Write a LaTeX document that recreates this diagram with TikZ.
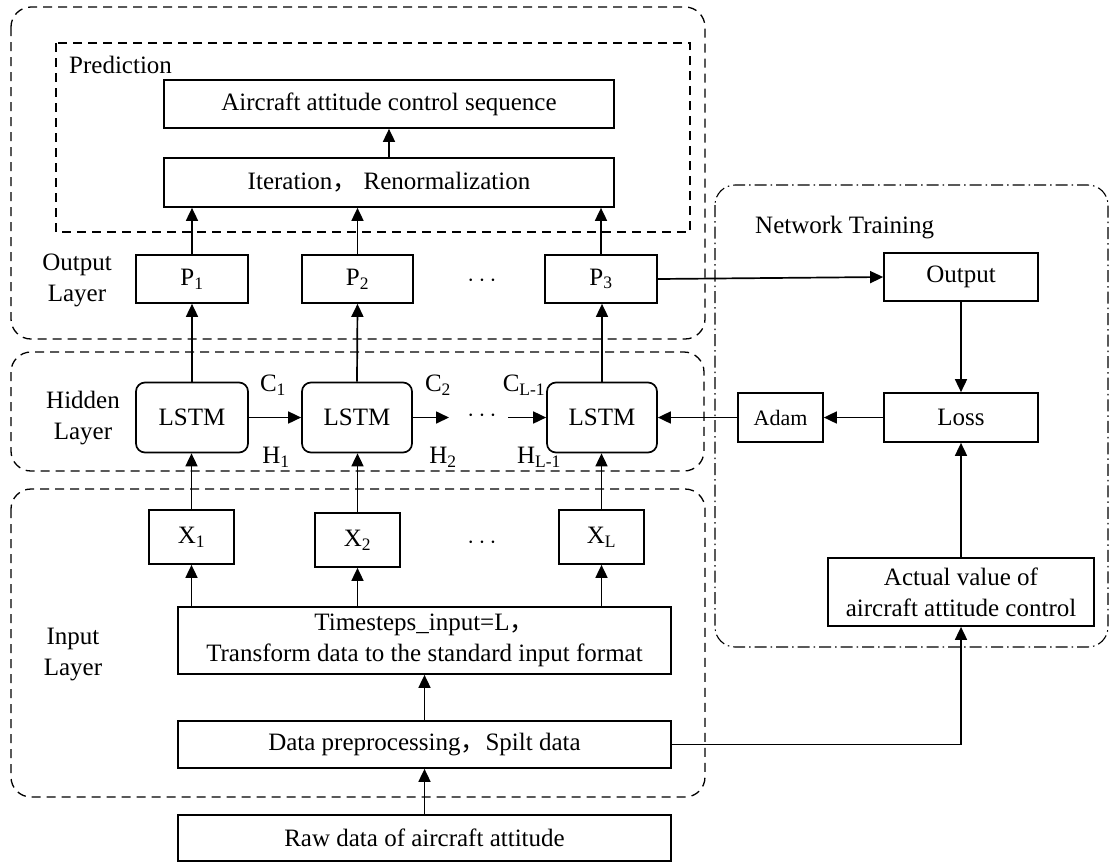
\documentclass[tikz,border=0pt]{standalone}
\usepackage{fontspec}
\setmainfont{Liberation Serif}
\newfontfamily\cjk{Noto Sans CJK SC}
\usetikzlibrary{arrows.meta}
\newcommand{\fwc}{{\cjk ，}}
\begin{document}
\begin{tikzpicture}[x=1pt,y=-1pt,
  font=\fontsize{25}{31}\selectfont,
  box/.style={draw, line width=1.7pt, inner sep=0pt, align=center},
  lstmbox/.style={box, rounded corners=9pt},
  region/.style={line width=1.3pt, dash pattern=on 9pt off 6pt, rounded corners=20pt},
  dashdotregion/.style={line width=1.1pt, dash pattern=on 12pt off 4pt on 1.5pt off 4pt, rounded corners=20pt},
  arr/.style={line width=1.7pt, -{Triangle[length=13pt,width=12pt]}},
  lbl/.style={inner sep=0pt, align=center}]
\useasboundingbox (0,0) rectangle (1113,863);

% regions
\draw[region] (11,7) rectangle (705,339);
\draw[line width=1.3pt, dash pattern=on 9pt off 6pt] (56,43) rectangle (690,232);
\draw[region] (11,352) rectangle (704,471);
\draw[region] (11,489) rectangle (705,797);
\draw[dashdotregion] (715,185) rectangle (1108,647);

% region labels
\node[lbl, anchor=west] (predlbl) at (69,65) {Prediction};
\node[lbl, anchor=west] (ntlbl) at (755,228) {Network Training};
\node[lbl] (outlbl) at (77,280) {Output\\Layer};
\node[lbl] (hidlbl) at (83,418) {Hidden\\Layer};
\node[lbl] (inlbl) at (73,654) {Input\\Layer};

% prediction
\node[box, minimum width=450pt, minimum height=48pt] (air) at (389,104) {Aircraft attitude control sequence};
\node[box, minimum width=450pt, minimum height=49pt] (iter) at (389,182.5) {Iteration\fwc\ Renormalization};

% output layer
\node[box, minimum width=112pt, minimum height=48pt] (p1) at (192,279) {P\textsubscript{1}};
\node[box, minimum width=111pt, minimum height=48pt] (p2) at (357.5,279) {P\textsubscript{2}};
\node[box, minimum width=112pt, minimum height=48pt] (p3) at (601,279) {P\textsubscript{3}};
\node[lbl] (pdots) at (482,281) {$\cdots$};

% hidden layer
\node[lstmbox, minimum width=112pt, minimum height=70pt] (l1) at (192,417.5) {LSTM};
\node[lstmbox, minimum width=110pt, minimum height=70pt] (l2) at (357,417.5) {LSTM};
\node[lstmbox, minimum width=110pt, minimum height=70pt] (l3) at (602,417.5) {LSTM};
\node[lbl] (hdots) at (482,416) {$\cdots$};
\coordinate (h2end) at (449,417.5);
\coordinate (h3start) at (508,417.5);
\node[lbl] (c1) at (273,385) {C\textsubscript{1}};
\node[lbl] (hh1) at (276,457) {H\textsubscript{1}};
\node[lbl] (c2) at (438,385) {C\textsubscript{2}};
\node[lbl] (hh2) at (443,457) {H\textsubscript{2}};
\node[lbl] (cl) at (524,385) {C\textsubscript{L-1}};
\node[lbl] (hl) at (539,457) {H\textsubscript{L-1}};

% input layer
\node[box, minimum width=85pt, minimum height=54pt] (x1) at (191.5,537) {X\textsubscript{1}};
\node[box, minimum width=85pt, minimum height=54pt] (x2) at (357.5,540) {X\textsubscript{2}};
\node[box, minimum width=85pt, minimum height=54pt] (xl) at (601.5,537) {X\textsubscript{L}};
\node[lbl] (xdots) at (482,543) {$\cdots$};
\node[box, minimum width=493pt, minimum height=67pt] (ts) at (424.5,640.5) {Timesteps\_input=L\fwc\\Transform data to the standard input format};
\node[box, minimum width=493pt, minimum height=47pt] (dp) at (424.5,744.5) {Data preprocessing\fwc Spilt data};
\node[box, minimum width=493pt, minimum height=46pt] (raw) at (424.5,838) {Raw data of aircraft attitude};

% network training
\node[box, minimum width=154pt, minimum height=48pt] (out) at (961,277) {Output};
\node[box, minimum width=154pt, minimum height=49pt] (loss) at (961,417.5) {Loss};
\node[box, minimum width=85pt, minimum height=49pt, font=\fontsize{22}{26}\selectfont] (adam) at (780.5,417.5) {Adam};
\node[box, minimum width=266pt, minimum height=68pt] (act) at (961,592) {Actual value of\\aircraft attitude control};

% connectors
\draw[arr] (iter.north) -- (air.south);
\foreach \p in {p1,p2,p3} {\draw[arr] (\p.north) -- (\p.north |- iter.south);}
\draw[arr] (l1.north) -- (p1.south);
\draw[arr] (l2.north) -- (p2.south);
\draw[arr] (l3.north) -- (l3.north |- p3.south);
\draw[arr] (x1.north) -- (x1.north |- l1.south);
\draw[arr] (x2.north) -- (x2.north |- l2.south);
\draw[arr] (xl.north) -- (xl.north |- l3.south);
\draw[arr] (x1.south |- ts.north) -- (x1.south);
\draw[arr] (x2.south |- ts.north) -- (x2.south);
\draw[arr] (xl.south |- ts.north) -- (xl.south);
\draw[arr] (dp.north) -- (ts.south);
\draw[arr] (raw.north) -- (dp.south);
\draw[arr] (l1.east) -- (l2.west);
\draw[arr] (l2.east) -- (h2end);
\draw[arr] (h3start) -- (l3.west);
\draw[arr] (p3.east) -- (out.west);
\draw[arr] (out.south) -- (loss.north);
\draw[arr] (loss.west) -- (adam.east);
\draw[arr] (adam.west) -- (l3.east);
\draw[arr] (act.north) -- (loss.south);
\draw[arr] (dp.east) -| (act.south);
\end{tikzpicture}
\end{document}
